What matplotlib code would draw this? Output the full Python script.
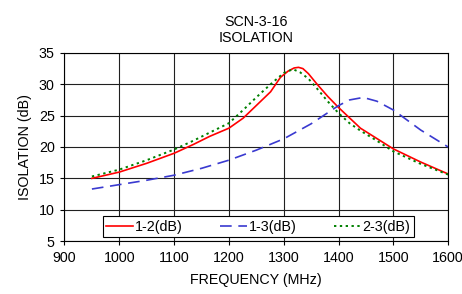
import matplotlib.pyplot as plt

plt.rcParams['font.family'] = ['Liberation Sans', 'DejaVu Sans']

# values
freq_12 = [950, 1000, 1050, 1075, 1100, 1135, 1165, 1200, 1226, 1251, 1276, 1294, 1308,
           1319, 1327, 1335, 1345, 1360, 1380, 1400, 1440, 1500, 1550, 1600]
iso_12 = [15.0, 16.0, 17.4, 18.2, 19.0, 20.4, 21.7, 23.0, 24.6, 26.7, 28.8, 31.1, 32.1,
          32.6, 32.7, 32.5, 31.7, 30.1, 28.1, 26.3, 23.0, 19.7, 17.6, 15.7]

freq_13 = [950, 1000, 1050, 1100, 1150, 1200, 1250, 1300, 1350, 1400, 1420, 1445, 1470,
           1500, 1550, 1600]
iso_13 = [13.3, 14.0, 14.7, 15.5, 16.6, 17.9, 19.5, 21.3, 23.7, 26.6, 27.5, 27.9, 27.3,
          25.9, 22.7, 20.0]

freq_23 = [950, 1000, 1050, 1100, 1135, 1165, 1200, 1226, 1251, 1276, 1300, 1317, 1330,
           1345, 1360, 1380, 1400, 1420, 1440, 1470, 1500, 1550, 1600]
iso_23 = [15.3, 16.4, 17.9, 19.6, 21.0, 22.3, 23.8, 25.9, 28.0, 30.0, 31.8, 32.4, 31.9,
          30.9, 29.4, 27.3, 25.4, 23.8, 22.6, 21.0, 19.3, 17.3, 15.6]

fig = plt.figure(figsize=(4.62, 2.94), dpi=100)
ax = fig.add_axes([0.1396, 0.180, 0.8304, 0.640])

ax.plot(freq_12, iso_12, color='#FF0000', lw=1.2, label='1-2(dB)')
ax.plot(freq_13, iso_13, color='#3A3AD0', lw=1.2, dashes=(7, 4), label='1-3(dB)')
ax.plot(freq_23, iso_23, color='#008000', lw=1.4, dashes=(1.2, 1.8), label='2-3(dB)')

ax.set_xlim(900, 1600)
ax.set_ylim(5, 35)
ax.set_xticks(range(900, 1601, 100))
ax.set_yticks(range(5, 36, 5))
ax.grid(True, color='#202020', lw=0.8)
ax.set_axisbelow(True)
ax.tick_params(labelsize=10.3, length=3, width=0.8, direction='out', pad=4)
for s in ax.spines.values():
    s.set_linewidth(0.8)

ax.set_title('SCN-3-16\nISOLATION', fontsize=10.3, pad=8)
ax.set_xlabel('FREQUENCY (MHz)', fontsize=10.3, labelpad=6)
ax.set_ylabel('ISOLATION (dB)', fontsize=10.3, labelpad=5)

leg = ax.legend(loc='lower center', bbox_to_anchor=(0.505, 0.02), ncol=3, fontsize=10.3,
                frameon=True, fancybox=False, edgecolor='black', framealpha=1,
                handlelength=1.9, columnspacing=2.6, handletextpad=0.1,
                borderpad=0.25, borderaxespad=0)
leg.get_frame().set_linewidth(0.8)

fig.savefig('out.png', dpi=100)
